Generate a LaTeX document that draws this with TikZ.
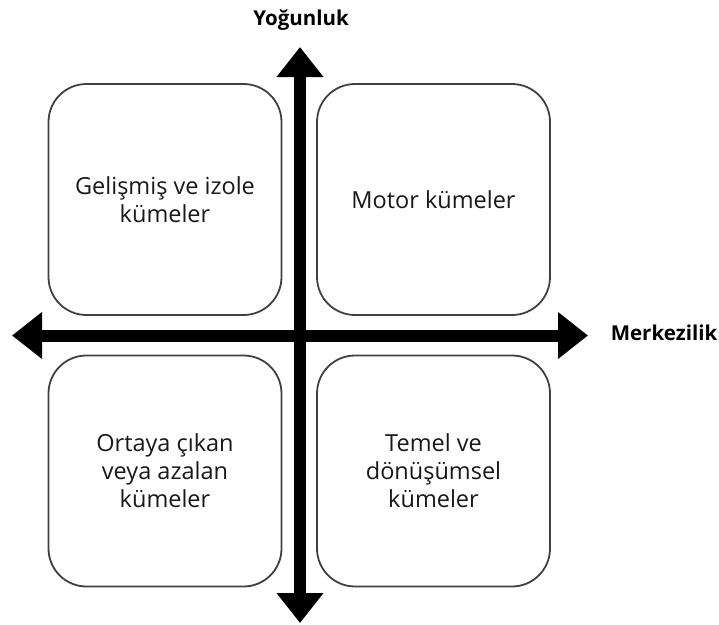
\documentclass[tikz,border=0pt]{standalone}
\usepackage{fontspec}
\setmainfont{Open Sans}
\usetikzlibrary{arrows.meta}
\begin{document}
\begin{tikzpicture}[x=1pt,y=-1pt,
  quad/.style={draw=black!75, line width=1.8pt, rounded corners=38pt, fill=white,
    minimum width=233pt, minimum height=231pt, align=center, inner sep=0pt,
    font=\fontsize{23.5}{28}\selectfont, text=black!90},
  axislabel/.style={font=\bfseries\fontsize{20.5}{24}\selectfont, text=black},
  axis/.style={line width=12pt, {Triangle[width=45pt,length=30pt]}-{Triangle[width=45pt,length=30pt]}}]
\useasboundingbox (0,0) rectangle (719,624);
\node[quad] (tl) at (165,199.5) {Gelişmiş ve izole\\kümeler};
\node[quad] (tr) at (433.5,199.5) {Motor kümeler};
\node[quad] (bl) at (165,471) {Ortaya çıkan\\veya azalan\\kümeler};
\node[quad] (br) at (433.5,471) {Temel ve\\dönüşümsel\\kümeler};
\coordinate (top) at (300,47);
\coordinate (bottom) at (300,623);
\coordinate (left) at (12,335.5);
\coordinate (right) at (588,335.5);
\draw[axis] (bottom) -- (top);
\draw[axis] (left) -- (right);
\node[axislabel] (ylab) at (301,20) {Yoğunluk};
\node[axislabel] (xlab) at (664,333) {Merkezilik};
\end{tikzpicture}
\end{document}
